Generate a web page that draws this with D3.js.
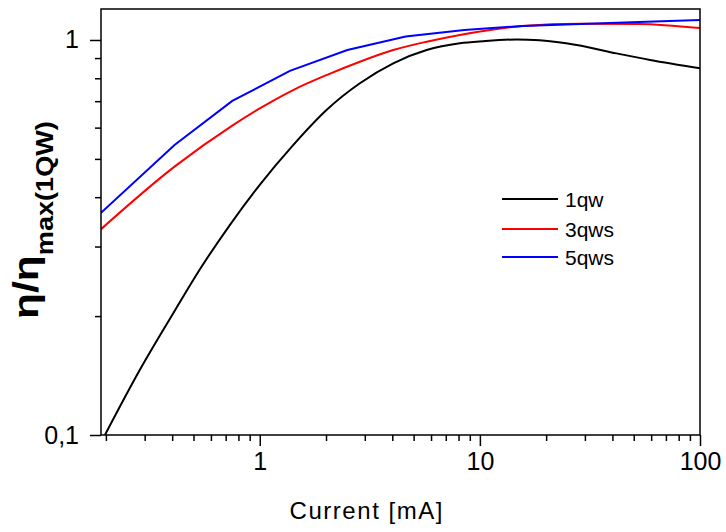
<!DOCTYPE html>
<html>
<head>
<meta charset="utf-8">
<script src="https://cdn.jsdelivr.net/npm/d3@7"></script>
<style>
  body { margin: 0; background: #fff; }
  svg text { font-family: "Liberation Sans", Arial, sans-serif; fill: #000; }
</style>
</head>
<body>
<svg width="726" height="532"></svg>
<script>
// values
const current1qw = [0.198, 0.285, 0.404, 0.533, 0.731, 1.0, 1.418, 2.01, 2.85, 4.04, 5.73, 8.11, 10.35, 14.7, 18.7, 27.5, 41.8, 59.3, 100];
const eta1qw = [0.1, 0.146, 0.203, 0.262, 0.34, 0.43, 0.542, 0.665, 0.777, 0.873, 0.943, 0.981, 0.993, 1.003, 0.998, 0.971, 0.925, 0.89, 0.848];

const current3qws = [0.19, 0.41, 0.75, 1.0, 1.418, 2.01, 2.85, 4.04, 5.73, 8.11, 15.6, 28.7, 52.8, 100];
const eta3qws = [0.332, 0.478, 0.607, 0.671, 0.747, 0.815, 0.881, 0.943, 0.99, 1.03, 1.085, 1.10, 1.098, 1.072];

const current5qws = [0.19, 0.41, 0.75, 1.37, 2.5, 4.6, 8.5, 15.6, 28.7, 52.8, 100];
const eta5qws = [0.365, 0.542, 0.701, 0.835, 0.943, 1.02, 1.06, 1.085, 1.098, 1.11, 1.124];

const seriesNames = ["1qw", "3qws", "5qws"];
const seriesColors = ["#000000", "#ff0000", "#0000ff"];

const xTickLabels = [1, 10, 100];
const yTickLabels = ["0,1", "1"];
const yTickValues = [0.1, 1];

let svg = d3.select("svg");

let mLeft = 101, mRight = 700, mTop = 9, mBottom = 435;

let x = d3.scaleLog().domain([0.19, 100]).range([mLeft, mRight]);
let y = d3.scaleLog().domain([0.1, 1.198]).range([mBottom, mTop]);

let series = [
    { name: seriesNames[0], color: seriesColors[0], xs: current1qw, ys: eta1qw, curve: d3.curveMonotoneX },
    { name: seriesNames[1], color: seriesColors[1], xs: current3qws, ys: eta3qws, curve: d3.curveMonotoneX },
    { name: seriesNames[2], color: seriesColors[2], xs: current5qws, ys: eta5qws, curve: d3.curveLinear }
];

svg.append("defs").append("clipPath").attr("id", "clip")
    .append("rect").attr("x", mLeft).attr("y", mTop)
    .attr("width", mRight - mLeft).attr("height", mBottom - mTop);

svg.append("g").attr("clip-path", "url(#clip)")
    .selectAll("path")
    .data(series)
    .enter().append("path")
    .attr("fill", "none")
    .attr("stroke", function(d) { return d.color; })
    .attr("stroke-width", 2)
    .attr("d", function(d) {
        let line = d3.line()
            .curve(d.curve)
            .x(function(p) { return x(p[0]); })
            .y(function(p) { return y(p[1]); });
        return line(d.xs.map(function(v, i) { return [v, d.ys[i]]; }));
    });

// frame
svg.append("rect")
    .attr("x", mLeft).attr("y", mTop)
    .attr("width", mRight - mLeft).attr("height", mBottom - mTop)
    .attr("fill", "none").attr("stroke", "#000").attr("stroke-width", 1.5);

// x axis ticks
let xMinor = [];
[0.1, 1, 10].forEach(function(dec) {
    for (let k = 2; k <= 9; k++) if (dec * k >= 0.19) xMinor.push(dec * k);
});

let xAxis = svg.append("g").attr("transform", "translate(0," + mBottom + ")");
xAxis.call(d3.axisBottom(x).tickValues(xMinor).tickSize(6).tickFormat(""));
xAxis.append("g").call(d3.axisBottom(x).tickValues(xTickLabels).tickSize(11).tickPadding(6).tickFormat(d3.format("d")));
xAxis.selectAll(".domain").remove();
xAxis.selectAll("line").attr("stroke", "#000").attr("stroke-width", 1.5);
xAxis.selectAll("text").attr("font-size", 25).attr("fill", "#000");

// y axis ticks
let yMinor = [0.2, 0.3, 0.4, 0.5, 0.6, 0.7, 0.8, 0.9];
let yAxis = svg.append("g").attr("transform", "translate(" + mLeft + ",0)");
yAxis.call(d3.axisLeft(y).tickValues(yMinor).tickSize(6).tickFormat(""));
yAxis.append("g").call(d3.axisLeft(y).tickValues(yTickValues).tickSize(11).tickPadding(11)
    .tickFormat(function(d, i) { return yTickLabels[i]; }));
yAxis.selectAll(".domain").remove();
yAxis.selectAll("line").attr("stroke", "#000").attr("stroke-width", 1.5);
yAxis.selectAll("text").attr("font-size", 25).attr("fill", "#000");

// axis titles
svg.append("text")
    .attr("x", 366).attr("y", 519)
    .attr("text-anchor", "middle")
    .attr("font-size", 24)
    .attr("textLength", 153)
    .text("Current [mA]");

let yTitle = svg.append("text")
    .attr("transform", "translate(38,220) rotate(-90) scale(1.18,1)")
    .attr("text-anchor", "middle")
    .attr("font-weight", "bold");
yTitle.append("tspan").attr("font-size", 36).text("η/η");
yTitle.append("tspan").attr("font-size", 23).attr("dy", 15).text("max(1QW)");

// legend
let legend = svg.append("g")
    .selectAll("g")
    .data(series)
    .enter().append("g")
    .attr("transform", function(d, i) { return "translate(502," + [199, 229, 257][i] + ")"; });
legend.append("line")
    .attr("x1", 0).attr("x2", 56)
    .attr("stroke", function(d) { return d.color; })
    .attr("stroke-width", 2);
legend.append("text")
    .attr("x", 63).attr("y", 8)
    .attr("font-size", 21)
    .text(function(d) { return d.name; });
</script>
</body>
</html>
